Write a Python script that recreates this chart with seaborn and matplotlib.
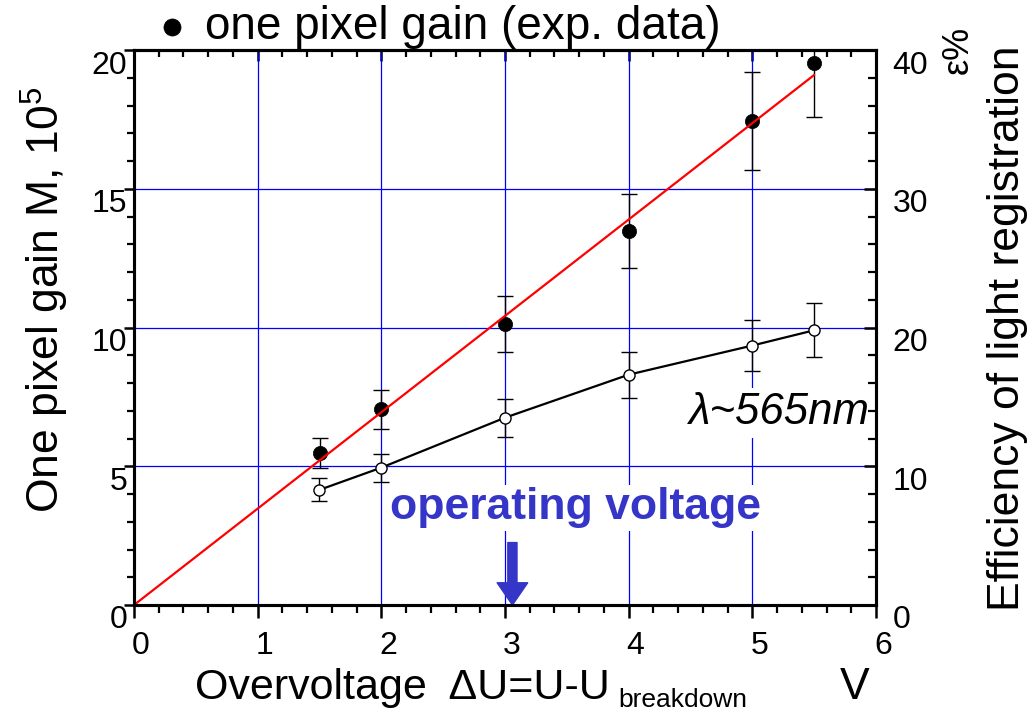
import matplotlib
matplotlib.use("Agg")
import matplotlib.pyplot as plt
import matplotlib.transforms as mtransforms
from matplotlib import font_manager
from matplotlib.ticker import MultipleLocator
import seaborn as sns

# Measured gain and light-registration efficiency versus overvoltage
overvoltage = [1.5, 2.0, 3.0, 4.0, 5.0, 5.5]
gain = [5.48, 7.05, 10.13, 13.48, 17.44, 19.53]          # units of 10^5
gain_err = [0.54, 0.70, 1.00, 1.33, 1.75, 1.95]
efficiency = [8.3, 9.9, 13.5, 16.6, 18.7, 19.8]          # percent
efficiency_err = [0.83, 1.00, 1.37, 1.66, 1.87, 1.94]

# Linear fit of the gain, drawn through its end points
fit_x = [0.0, 5.5]
fit_gain = [0.0, 19.1]

x_ticks = [0, 1, 2, 3, 4, 5, 6]
gain_ticks = [0, 5, 10, 15, 20]
eff_ticks = [0, 10, 20, 30, 40]


def pick(*names):
    avail = {f.name for f in font_manager.fontManager.ttflist}
    for n in names:
        if n in avail:
            return n
    return "DejaVu Sans"


sns.set_theme(style="white")
NARROW = pick("Liberation Sans Narrow", "Liberation Sans")
REGULAR = pick("Liberation Sans", "Arial", "DejaVu Sans")
TITLE_SIZE = 38 if NARROW.endswith("Narrow") else 32
plt.rcParams["font.family"] = [REGULAR, "DejaVu Sans"]
plt.rcParams["mathtext.fontset"] = "custom"
plt.rcParams["mathtext.rm"] = NARROW
plt.rcParams["mathtext.it"] = NARROW + ":italic"
for key in ("text.color", "axes.labelcolor", "xtick.color", "ytick.color",
            "axes.edgecolor"):
    plt.rcParams[key] = "black"

BLUE_TXT = "#3535c8"
GRID = "#0000ff"

fig = plt.figure(figsize=(10.30, 7.12), dpi=100)
fig.patch.set_facecolor("white")
ax = fig.add_axes([134 / 1030, 1 - 605 / 712, (876 - 134) / 1030, (605 - 50) / 712])
ax.set_facecolor("white")

ax.set_xlim(0, 6)
ax.set_ylim(0, 20)
ax.xaxis.set_major_locator(MultipleLocator(1))
ax.xaxis.set_minor_locator(MultipleLocator(0.2))
ax.yaxis.set_major_locator(MultipleLocator(5))
ax.yaxis.set_minor_locator(MultipleLocator(1))

# blue grid
ax.grid(True, which="major", color=GRID, linewidth=0.9, zorder=0)
ax.set_axisbelow(True)

# gain: error bars, filled points, fit line
ax.errorbar(overvoltage, gain, yerr=gain_err, fmt="none", ecolor="black",
            elinewidth=1.0, capsize=5.5, capthick=1.0, zorder=2)
sns.scatterplot(x=overvoltage, y=gain, ax=ax, s=105, color="black",
                edgecolor="black", linewidth=0.5, zorder=3,
                label="one pixel gain (exp. data)")
sns.lineplot(x=fit_x, y=fit_gain, ax=ax, color="#ff0000", linewidth=1.6,
             zorder=4, legend=False)

# efficiency on the right-hand axis
ax2 = ax.twinx()
ax2.set_ylim(0, 40)
ax2.yaxis.set_major_locator(MultipleLocator(10))
ax2.yaxis.set_minor_locator(MultipleLocator(2))
ax2.errorbar(overvoltage, efficiency, yerr=efficiency_err, fmt="none",
             ecolor="black", elinewidth=1.0, capsize=5.5, capthick=1.0, zorder=2)
sns.lineplot(x=overvoltage, y=efficiency, ax=ax2, color="black", linewidth=1.6,
             marker="o", markersize=8, markerfacecolor="white",
             markeredgecolor="black", markeredgewidth=1.0, zorder=3, legend=False)
ax2.grid(False)

# spines and ticks
for a in (ax, ax2):
    for s in a.spines.values():
        s.set_linewidth(2.2)
        s.set_color("black")
        s.set_visible(True)

ax.tick_params(axis="x", which="major", direction="out", length=9, width=1.8,
               labelsize=23, pad=10, colors="black", bottom=True, top=False)
ax.tick_params(axis="x", which="minor", direction="out", length=5.5, width=1.6,
               bottom=True, top=False)
ax.tick_params(axis="y", which="major", direction="out", length=7, width=1.8,
               labelsize=23, pad=-2, colors="black", left=True, right=False)
ax.tick_params(axis="y", which="minor", direction="out", length=5, width=1.6,
               left=True, right=False)
ax2.tick_params(axis="y", which="major", direction="in", length=9, width=1.8,
                labelsize=23, pad=12, colors="black", right=True, left=False)
ax2.tick_params(axis="y", which="minor", direction="in", length=6, width=1.6,
                right=True, left=False)
ax2.set_ylabel("")

top = ax.secondary_xaxis("top")
top.xaxis.set_major_locator(MultipleLocator(1))
top.xaxis.set_minor_locator(MultipleLocator(0.2))
top.tick_params(axis="x", which="major", direction="in", length=8, width=1.8,
                labeltop=False, colors="black")
top.tick_params(axis="x", which="minor", direction="in", length=5, width=1.6)
top.spines["top"].set_linewidth(2.2)
top.spines["top"].set_color("black")

ax.set_xticks(x_ticks)
ax.set_yticks(gain_ticks)
ax2.set_yticks(eff_ticks)
ax.set_xlabel("")
ax.set_ylabel("")

# small offsets of the tick labels
dx = mtransforms.ScaledTranslation(7 / 100, 0, fig.dpi_scale_trans)
dy = mtransforms.ScaledTranslation(0, -12 / 100, fig.dpi_scale_trans)
for t in ax.xaxis.get_major_ticks():
    t.label1.set_transform(t.label1.get_transform() + dx)
for t in ax.yaxis.get_major_ticks():
    t.label1.set_transform(t.label1.get_transform() + dy)
for t in ax2.yaxis.get_major_ticks():
    t.label2.set_transform(t.label2.get_transform() + dy)

# annotations inside the plot
ax.text(3.57, 3.5, "operating voltage", color=BLUE_TXT, fontsize=32,
        fontweight="bold", ha="center", va="center", zorder=5,
        bbox=dict(facecolor="white", edgecolor="none", pad=2))
ax.annotate("", xy=(3.06, 0), xytext=(3.06, 2.25),
            arrowprops=dict(arrowstyle="simple,head_length=0.8,head_width=1.1,tail_width=0.33",
                            color=BLUE_TXT, shrinkA=0, shrinkB=0,
                            mutation_scale=20),
            zorder=6, annotation_clip=False)
ax.text(5.95, 6.92, "λ~565nm", fontsize=31.5, style="italic", ha="right",
        va="center", zorder=5,
        bbox=dict(facecolor="white", edgecolor="none", pad=3))

# legend above the plot
leg = ax.legend(loc="center left", bbox_to_anchor=(155 / 1030, 1 - 27 / 712),
                bbox_transform=fig.transFigure, frameon=False,
                handlelength=0.6 * 39 / TITLE_SIZE, handletextpad=0.3 * 39 / TITLE_SIZE,
                borderpad=0, borderaxespad=0,
                prop=dict(family=NARROW, size=TITLE_SIZE + 1),
                markerscale=1.2)

# axis titles
fig.text(45 / 1030, 1 - 300 / 712, "One pixel gain M, 10$^5$", rotation=90,
         ha="center", va="center", family=NARROW, fontsize=TITLE_SIZE)
fig.text(1007 / 1030, 1 - 328 / 712, "Efficiency of light registration",
         rotation=90, ha="center", va="center", family=NARROW,
         fontsize=TITLE_SIZE)
fig.text(958 / 1030, 1 - 50 / 712, "ε%", rotation=90, ha="center",
         va="center", family=[NARROW, "DejaVu Sans"], fontsize=26)

xl = fig.text(195 / 1030, 1 - 699 / 712, "Overvoltage  ΔU=U-U",
              ha="left", va="baseline", family=[NARROW, "DejaVu Sans"],
              fontsize=TITLE_SIZE - 1)
fig.canvas.draw()
bb = xl.get_window_extent()
fig.text((bb.x1 + 8) / 1030, 1 - 707 / 712, "breakdown", ha="left",
         va="baseline", family=NARROW, fontsize=19)
fig.text(855 / 1030, 1 - 699 / 712, "V", ha="center", va="baseline",
         family=NARROW, fontsize=TITLE_SIZE)

fig.savefig("out.png", dpi=100)
